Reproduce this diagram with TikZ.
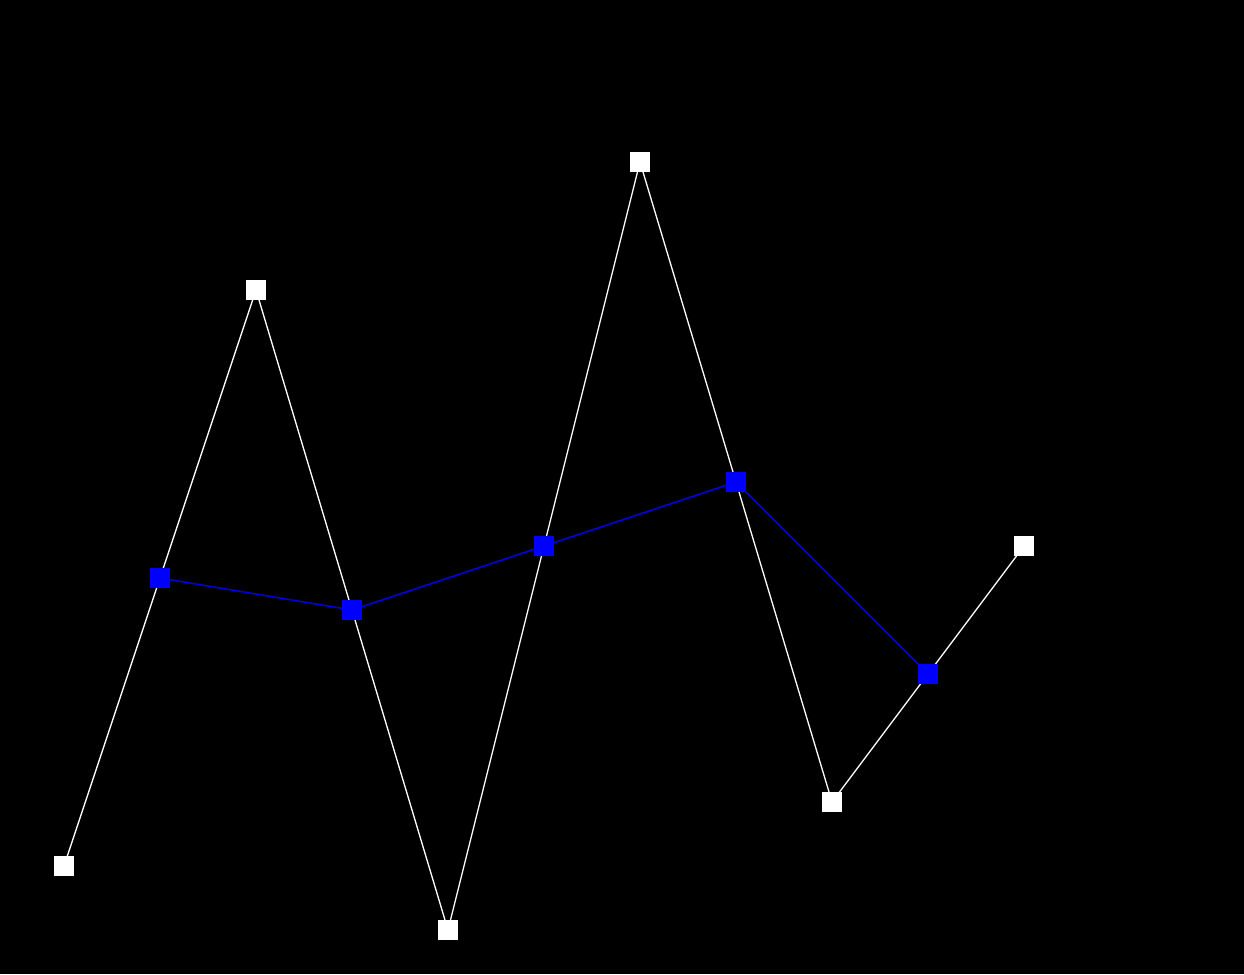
\documentclass[tikz,border=0pt]{standalone}
\usetikzlibrary{backgrounds}
\tikzset{
    punkt/.style={fill=white, minimum size=20pt, inner sep=0pt},
    mitte/.style={fill=blue, minimum size=20pt, inner sep=0pt},
    linie/.style={white, line width=1.3pt},
    mittellinie/.style={blue!85!black, line width=1.6pt}
}
\begin{document}
\begin{tikzpicture}[x=1pt, y=-1pt]
        \useasboundingbox (0,0) rectangle (1244,974);

        % Stützpunkte
        \node[punkt] (w1) at (64,866) {};
        \node[punkt] (w2) at (256,290) {};
        \node[punkt] (w3) at (448,930) {};
        \node[punkt] (w4) at (640,162) {};
        \node[punkt] (w5) at (832,802) {};
        \node[punkt] (w6) at (1024,546) {};

        % Mittelpunkte
        \node[mitte] (m1) at (160,578) {};
        \node[mitte] (m2) at (352,610) {};
        \node[mitte] (m3) at (544,546) {};
        \node[mitte] (m4) at (736,482) {};
        \node[mitte] (m5) at (928,674) {};

        \begin{pgfonlayer}{background}
        % Hintergrund
        \fill[black] (0,0) rectangle (1244,974);

        % Polygonzug
        \draw[linie] (w1.center) -- (w2.center) -- (w3.center) -- (w4.center) -- (w5.center) -- (w6.center);

        % Verbindung der Mittelpunkte
        \draw[mittellinie] (m1.center) -- (m2.center) -- (m3.center) -- (m4.center) -- (m5.center);
        \end{pgfonlayer}

    \end{tikzpicture}
\end{document}
